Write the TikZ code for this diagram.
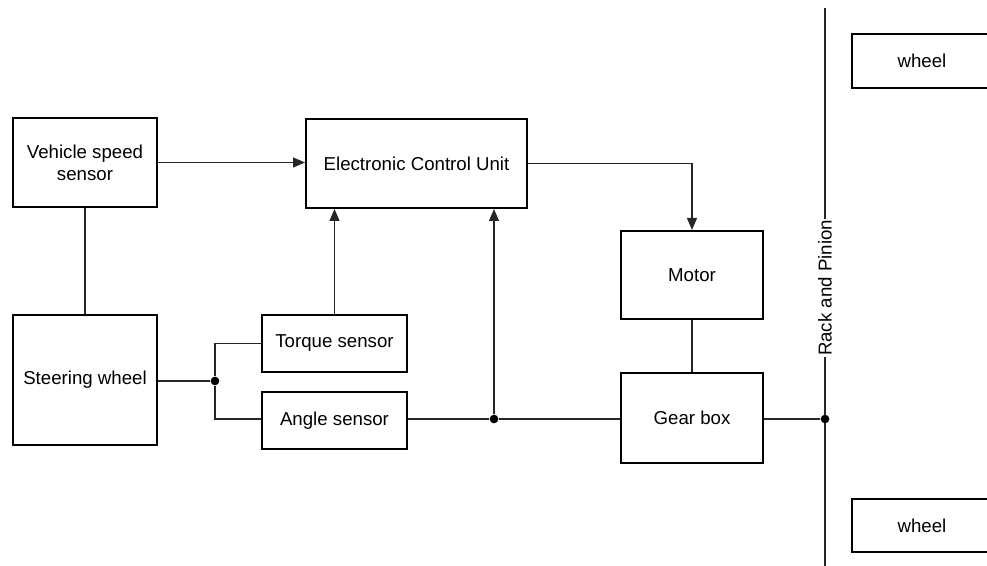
\documentclass[tikz,border=0pt]{standalone}
\usepackage{fontspec}
\setmainfont{Liberation Sans}
\usetikzlibrary{arrows.meta}
\begin{document}
\begin{tikzpicture}[x=0.75pt,y=-0.75pt,
		block/.style={draw,line width=1.5pt,align=center,inner sep=2pt,font=\fontsize{14}{16.5}\selectfont},
		link/.style={line width=0.9pt,draw=black!85},
		arr/.style={link,-{Triangle[length=9pt,width=7.5pt]}},
		dot/.style={fill,circle,inner sep=0pt,minimum size=6.5pt}]
		\clip (0,0) rectangle (987,566);
		%blocks
		\node[block,minimum width=108pt,minimum height=66.75pt] (vss) at (85,162.5) {Vehicle speed\\sensor};
		\node[block,minimum width=165.75pt,minimum height=66.75pt] (ecu) at (416.5,163.5) {Electronic Control Unit};
		\node[block,minimum width=108pt,minimum height=97.5pt] (sw) at (85,380) {Steering wheel};
		\node[block,minimum width=108.75pt,minimum height=42.75pt] (tq) at (334.5,343.5) {Torque sensor};
		\node[block,minimum width=108.75pt,minimum height=42.75pt] (ang) at (334.5,420.5) {Angle sensor};
		\node[block,minimum width=106.5pt,minimum height=66pt] (motor) at (692,275) {Motor};
		\node[block,minimum width=106.5pt,minimum height=67.5pt] (gear) at (692,418) {Gear box};
		\node[block,minimum width=105pt,minimum height=40.5pt] (whtop) at (922,61) {wheel};
		\node[block,minimum width=105pt,minimum height=40pt] (whbot) at (922,525.5) {wheel};
		%rack
		\coordinate (rtop) at (825,8);
		\coordinate (rbot) at (825,570);
		\draw[link] (rtop) -- (rbot);
		\node[fill=white,rotate=90,inner sep=1pt,font=\fontsize{14}{16.5}\selectfont] (rack) at (825,288) {Rack and Pinion};
		%junctions
		\node[dot] (j1) at (215,381) {};
		\node[dot] (j2) at (494,419) {};
		\node[dot] (j3) at (825,419) {};
		%connectors
		\draw[arr] (vss.east) -- (ecu.west |- vss.east);
		\draw[link] (vss.south) -- (sw.north);
		\draw[link] (sw.east |- j1) -- (j1);
		\draw[link] (j1) |- (tq.west);
		\draw[link] (j1) |- (ang.west |- j2);
		\draw[arr] (tq.north) -- (tq.north |- ecu.south);
		\draw[link] (ang.east |- j2) -- (j2) -- (j2 -| gear.west);
		\draw[arr] (j2) -- (j2 |- ecu.south);
		\draw[arr] (ecu.east) -| (motor.north);
		\draw[link] (motor.south) -- (gear.north);
		\draw[link] (gear.east |- j3) -- (j3);
	\end{tikzpicture}
\end{document}
